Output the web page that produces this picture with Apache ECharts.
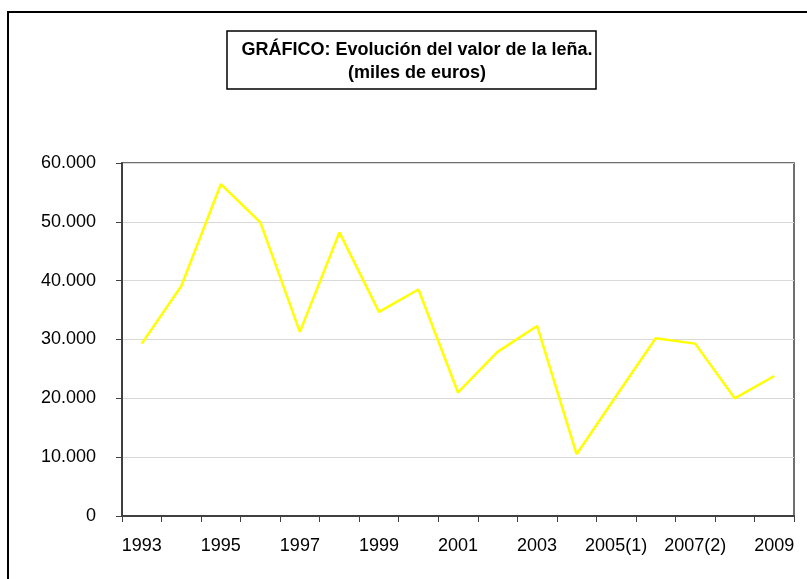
<!DOCTYPE html>
<html>
<head>
<meta charset="utf-8">
<script src="https://cdn.jsdelivr.net/npm/echarts@6/dist/echarts.min.js"></script>
<style>html,body{margin:0;padding:0;background:#fff;}#c{width:807px;height:579px;}</style>
</head>
<body>
<div id="c"></div>
<script>
var categories = ['1993','1994','1995','1996','1997','1998','1999','2000','2001','2002','2003','2004','2005(1)','2006','2007(2)','2008','2009'];
var values = [29300, 39100, 56400, 49900, 31300, 48200, 34700, 38500, 21000, 27900, 32300, 10500, 20400, 30200, 29300, 20000, 23800];
var titleLines = ['GRÁFICO: Evolución del valor de la leña.', '(miles de euros)'];
var yTicks = { min: 0, max: 60000, interval: 10000 };

var chart = echarts.init(document.getElementById('c'), null, { renderer: 'canvas' });
var font = '"Liberation Sans", Arial, sans-serif';
chart.setOption({
  animation: false,
  backgroundColor: '#ffffff',
  title: {
    text: titleLines.join('\n'),
    left: 412,
    top: 34,
    textAlign: 'center',
    textStyle: { fontFamily: font, fontSize: 18, fontWeight: 'bold', color: '#000', lineHeight: 23 }
  },
  graphic: [
    { type: 'rect', shape: { x: 8, y: 12, width: 830, height: 620 }, style: { fill: 'none', stroke: '#000', lineWidth: 2 }, silent: true },
    { type: 'rect', shape: { x: 227, y: 31, width: 369, height: 58 }, style: { fill: 'none', stroke: '#000', lineWidth: 1.5 }, silent: true }
  ],
  grid: { left: 122, top: 163, right: 13, bottom: 63, show: true, borderColor: '#404040', borderWidth: 1.5 },
  xAxis: {
    type: 'category',
    data: categories,
    boundaryGap: true,
    axisLine: { lineStyle: { color: '#404040', width: 2 } },
    axisTick: { show: true, interval: 0, length: 6, lineStyle: { color: '#404040', width: 1 } },
    axisLabel: { interval: 1, margin: 21, color: '#000', fontFamily: font, fontSize: 18 },
    splitLine: { show: false }
  },
  yAxis: {
    type: 'value',
    min: yTicks.min, max: yTicks.max, interval: yTicks.interval,
    axisLine: { show: true, lineStyle: { color: '#404040', width: 2 } },
    axisTick: { show: true, length: 6, lineStyle: { color: '#404040', width: 1 } },
    axisLabel: {
      margin: 26, color: '#000', fontFamily: font, fontSize: 18,
      formatter: function (v) { return String(v).replace(/\B(?=(\d{3})+(?!\d))/g, '.'); }
    },
    splitLine: { show: true, lineStyle: { color: '#d9d9d9', width: 1 } }
  },
  series: [{
    type: 'line',
    data: values,
    symbol: 'none',
    lineStyle: { color: '#ffff00', width: 2.5 },
    itemStyle: { color: '#ffff00' }
  }]
});
</script>
</body>
</html>
